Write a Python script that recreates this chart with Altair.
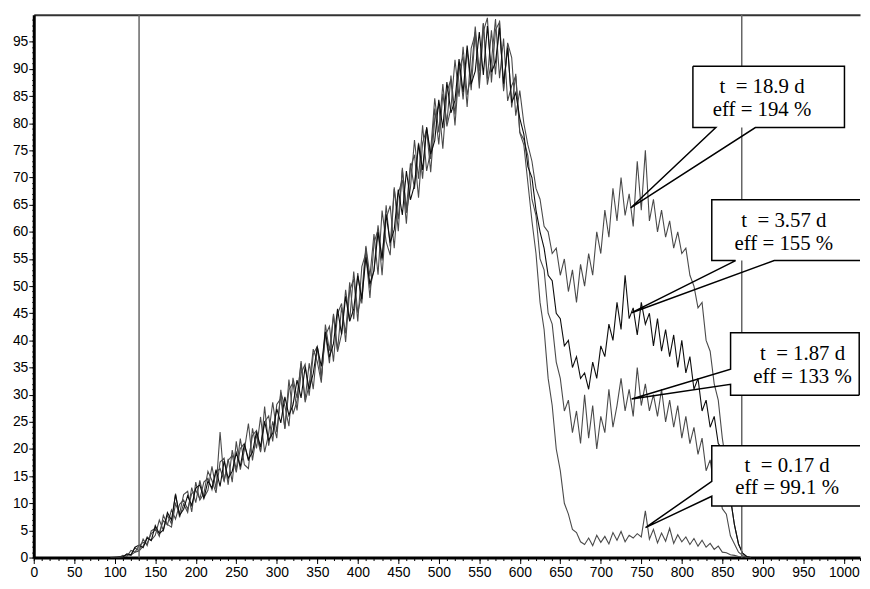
import altair as alt
import pandas as pd

# ---------------- data (channel grid, step 5) ----------------
chan_left = list(range(95, 601, 5))    # 102 channels
chan_right = list(range(605, 886, 5))  # 57 channels

a_left = [0, 0, 0, 0.4, 0.2, 1.3, 1.0, 1.2, 3.4, 2.2,
          4.9, 5.4, 3.9, 7.8, 6.1, 5.6, 9.9, 8.1, 11.6, 12.2,
          8.4, 13.9, 10.6, 11.8, 15.9, 14.2, 11.9, 17.6, 18.3, 13.4,
          19.8, 16.2, 21.9, 17.1, 16.4, 23.8, 20.1, 25.9, 19.4, 22.8,
          28.6, 23.1, 30.4, 27.9, 24.2, 33.1, 29.4, 35.8, 28.6, 31.9,
          38.4, 36.1, 32.2, 42.9, 38.1, 44.6, 37.9, 41.2, 49.3, 43.6,
          52.7, 45.1, 48.6, 57.4, 51.8, 59.6, 52.1, 63.9, 58.2, 55.7,
          67.9, 62.3, 71.4, 63.5, 68.1, 76.9, 69.8, 79.6, 71.2, 74.9,
          84.6, 78.3, 87.2, 79.4, 82.8, 91.7, 84.9, 94.1, 85.2, 88.9,
          97.8, 89.6, 98.4, 87.1, 91.4, 99.2, 88.3, 95.6, 84.1, 86.9,
          88.7, 78.2]
a_right = [76, 69, 62, 56, 47, 42, 33, 28, 20, 16,
           10, 8, 5.2, 4.6, 2.9, 2.4, 3.6, 2.2, 4.1, 2.8,
           3.9, 2.5, 4.6, 3.2, 4.8, 2.9, 4.1, 3.6, 4.4, 3.8,
           8.6, 3.4, 5.2, 2.7, 4.5, 3.0, 5.4, 2.6, 4.2, 2.9,
           3.8, 2.4, 3.5, 2.1, 3.2, 1.9, 2.6, 1.5, 2.1, 1.0,
           0.9, 0.5, 0.4, 0.2, 0.1, 0, 0]

b_left = [0, 0, 0.1, 0.1, 0.6, 0.4, 1.8, 1.2, 2.1, 3.8,
          3.2, 4.1, 6.9, 5.0, 7.8, 6.2, 11.8, 7.4, 9.9, 8.3,
          12.9, 10.1, 14.2, 11.0, 12.4, 16.8, 12.6, 23.1, 14.0, 18.2,
          13.9, 21.4, 16.2, 19.8, 24.7, 17.9, 22.6, 19.4, 27.8, 20.6,
          25.1, 22.0, 30.9, 23.7, 32.8, 26.4, 28.9, 36.2, 29.1, 35.8,
          31.0, 38.9, 33.2, 41.4, 35.8, 44.9, 38.2, 46.1, 41.3, 50.7,
          43.9, 52.4, 46.8, 57.1, 49.6, 53.0, 61.2, 54.7, 64.9, 57.3,
          68.2, 60.1, 71.8, 64.2, 72.6, 67.9, 76.4, 69.8, 79.3, 73.4,
          82.7, 76.1, 85.4, 79.9, 88.8, 81.6, 91.2, 84.4, 93.5, 86.1,
          96.8, 87.9, 98.4, 88.2, 97.1, 89.0, 98.9, 86.2, 94.6, 82.9,
          89.1, 78.4]
b_right = [77, 74, 66, 63, 55, 53, 45, 43, 36, 33,
           27, 29, 23, 27, 21, 30, 22, 28, 20, 26,
           23, 31, 24, 28, 33, 27, 31, 26, 35, 28,
           32, 27, 30, 26, 31, 25, 29, 24, 28, 22,
           26, 21, 24, 19, 22, 16, 18, 13, 14, 9,
           8, 4, 2.5, 1, 0.4, 0, 0]

c_left = [0, 0, 0.1, 0.1, 0.7, 0.5, 1.9, 2.3, 1.8, 3.6,
          3.1, 5.9, 4.4, 5.1, 8.3, 6.9, 11.6, 7.8, 8.9, 11.4,
          9.6, 12.8, 13.4, 10.9, 14.1, 12.8, 16.2, 13.1, 17.8, 14.6,
          15.9, 19.3, 16.8, 20.9, 18.1, 19.4, 23.2, 20.4, 25.1, 21.6,
          22.9, 27.4, 24.8, 29.6, 26.2, 28.1, 32.7, 29.4, 35.1, 31.0,
          33.9, 38.8, 35.2, 41.6, 36.9, 39.4, 45.8, 41.1, 48.1, 43.5,
          45.8, 51.9, 47.6, 55.3, 50.4, 52.8, 59.9, 55.1, 63.2, 58.0,
          60.4, 67.8, 63.1, 71.2, 65.9, 68.6, 76.1, 71.4, 79.2, 74.3,
          76.8, 84.3, 79.1, 87.6, 81.9, 84.2, 91.8, 85.7, 94.3, 87.2,
          89.6, 96.8, 88.9, 97.9, 89.4, 91.2, 97.6, 87.3, 93.9, 83.8,
          85.6, 80.9]
c_right = [78, 72, 70, 64, 60, 57, 52, 51, 45, 44,
           39, 40, 35, 37, 33, 34, 31, 36, 33, 39,
           37, 43, 40, 47, 42, 52, 44, 46, 41, 47,
           43, 45, 39, 44, 38, 42, 37, 41, 35, 40,
           34, 37, 31, 33, 27, 29, 24, 26, 21, 20,
           14, 11, 6, 2.5, 0.8, 0.2, 0]

d_left = [0, 0.1, 0, 0.1, 0.5, 0.5, 1.0, 2.2, 2.8, 2.6,
          4.4, 5.1, 4.6, 6.8, 6.0, 8.8, 7.1, 9.8, 10.6, 8.9,
          11.8, 12.4, 10.8, 13.9, 14.6, 12.5, 15.7, 16.4, 14.1, 17.9,
          18.8, 15.7, 20.1, 21.0, 17.8, 22.5, 23.4, 19.6, 25.0, 26.1,
          21.4, 28.2, 29.3, 23.8, 30.9, 32.2, 27.1, 34.0, 35.6, 29.8,
          37.4, 38.9, 33.0, 40.9, 42.6, 36.1, 44.9, 46.8, 39.7, 49.2,
          51.3, 43.5, 53.6, 56.1, 47.8, 57.9, 60.4, 52.0, 62.5, 64.8,
          57.0, 67.1, 69.6, 61.5, 71.8, 74.2, 66.3, 76.4, 78.9, 71.0,
          80.8, 83.4, 75.3, 85.7, 88.1, 79.6, 89.9, 92.3, 83.0, 93.8,
          96.5, 86.4, 96.9, 99.4, 87.5, 97.2, 98.6, 85.9, 94.8, 92.1,
          81.4, 86.0]
d_right = [80, 76, 73, 68, 66, 61, 60, 56, 57, 52,
           55, 49, 53, 47, 54, 50, 56, 52, 60, 56,
           64, 59, 68, 62, 70, 63, 67, 61, 73, 64,
           75, 62, 66, 60, 64, 59, 62, 57, 60, 56,
           57, 52, 50, 46, 47, 40, 38, 32, 29, 22,
           17, 11, 6, 2.5, 0.8, 0.2, 0]

series_names = ["t = 0.17 d", "t = 1.87 d", "t = 18.9 d", "t = 3.57 d"]
series_values = [a_left + a_right, b_left + b_right, d_left + d_right, c_left + c_right]
series_colors = ["#4a4a4a", "#4a4a4a", "#4a4a4a", "#0d0d0d"]

# vertical marker channels
marker_channels = [130, 874]

# callout annotations (data coordinates)
NB = "\u00a0"
label_line1 = ["t " + NB + "= 18.9 d", "t " + NB + "= 3.57 d", "t " + NB + "= 1.87 d", "t " + NB + "= 0.17 d"]
label_line2 = ["eff = 194 %", "eff = 155 %", "eff = 133 %", "eff = 99.1 %"]
label_x = [899, 926, 949, 930]
label_y1 = [86.7, 62.0, 37.4, 16.8]
label_y2 = [82.5, 57.8, 33.2, 12.8]
box_x0 = [813.7, 837, 860.2, 837]
box_x1 = [1000.8, 1020, 1019, 1020]
box_y0 = [79.2, 54.7, 29.9, 9.5]
box_y1 = [90.5, 65.9, 41.4, 20.6]
# callout outline paths (box edges + pointer wedge)
outline_paths = [
    [(813.7, 90.5), (1000.8, 90.5), (1000.8, 79.2), (890.8, 79.2), (736.8, 64.4),
     (842.0, 79.2), (813.7, 79.2), (813.7, 90.5)],
    [(1020, 65.9), (837, 65.9), (837, 54.7), (866.4, 54.7), (738.1, 45.1),
     (914.1, 54.7), (1020, 54.7)],
    [(1019, 29.9), (1019, 41.4), (860.2, 41.4), (860.2, 34.7), (738.1, 29.2),
     (860.2, 31.9), (860.2, 29.9), (1019, 29.9)],
    [(1020, 20.6), (837, 20.6), (837, 14.05), (755.2, 5.5), (837, 11.3),
     (837, 9.5), (1020, 9.5)],
]

x_major = list(range(0, 1001, 50))
x_minor = list(range(0, 1021, 10))
y_major = list(range(0, 96, 5))
y_minor = list(range(0, 100, 1))

# ---------------- chart ----------------
chans = chan_left + chan_right
xs = alt.Scale(domain=[0, 1020], nice=False, zero=False)
ys = alt.Scale(domain=[0, 100], nice=False, zero=False)

layers = []
for i, (name, vals, col) in enumerate(zip(series_names, series_values, series_colors)):
    df = pd.DataFrame({"chan": chans[:len(vals)], "counts": vals, "series": name})
    if i == 0:
        xa = alt.Axis(values=x_major, format="d", tickSize=6, tickColor="black", labelFontSize=14,
                      labelFont="Liberation Sans", labelColor="black", labelPadding=2,
                      domainColor="black", domainWidth=3, grid=False, title=None,
                      labelFlush=False, orient="bottom")
        ya = alt.Axis(values=y_major, format="d", tickSize=5, tickColor="black", labelFontSize=14,
                      labelFont="Liberation Sans", labelColor="black", labelPadding=1,
                      domainColor="black", domainWidth=3, grid=False, title=None,
                      orient="left")
    else:
        xa = None
        ya = None
    layers.append(
        alt.Chart(df).mark_line(color=col, strokeWidth=1.1, clip=True).encode(
            x=alt.X("chan:Q", scale=xs, axis=xa),
            y=alt.Y("counts:Q", scale=ys, axis=ya),
        )
    )

# minor ticks
minor = alt.Chart(pd.DataFrame({"chan": [0], "counts": [0]})).mark_point(opacity=0).encode(
    x=alt.X("chan:Q", scale=xs, axis=alt.Axis(values=x_minor, tickSize=3, tickColor="black",
                                               labels=False, domain=False, grid=False, title=None,
                                               orient="bottom")),
    y=alt.Y("counts:Q", scale=ys, axis=alt.Axis(values=y_minor, tickSize=2, tickColor="black",
                                                 labels=False, domain=False, grid=False, title=None,
                                                 orient="left")),
)

rules = alt.Chart(pd.DataFrame({"chan": marker_channels})).mark_rule(
    color="#666666", strokeWidth=1.5).encode(
    x=alt.X("chan:Q", scale=xs, axis=alt.Axis(orient="top", labels=False, ticks=False,
                                               domain=True, domainColor="#333333",
                                               domainWidth=2, grid=False, title=None)),
)

boxes_df = pd.DataFrame({"x0": box_x0, "x1": box_x1, "y0": box_y0, "y1": box_y1})
boxes = alt.Chart(boxes_df).mark_rect(color="white", clip=True).encode(
    x=alt.X("x0:Q", scale=xs, axis=None), x2="x1:Q",
    y=alt.Y("y0:Q", scale=ys, axis=None), y2="y1:Q",
)

rows = []
for b, path in enumerate(outline_paths):
    for k, (px, py) in enumerate(path):
        rows.append({"box": b, "k": k, "x": px, "y": py})
outline = alt.Chart(pd.DataFrame(rows)).mark_line(color="black", strokeWidth=1.5, clip=True).encode(
    x=alt.X("x:Q", scale=xs, axis=None),
    y=alt.Y("y:Q", scale=ys, axis=None),
    detail="box:N",
    order="k:Q",
)

text_df = pd.DataFrame({
    "x": label_x + label_x,
    "y": label_y1 + label_y2,
    "t": label_line1 + label_line2,
})
texts = alt.Chart(text_df).mark_text(font="Liberation Serif", fontSize=21, color="black",
                                     align="center", baseline="middle").encode(
    x=alt.X("x:Q", scale=xs, axis=None),
    y=alt.Y("y:Q", scale=ys, axis=None),
    text="t:N",
)

chart = alt.layer(layers[0], minor, *layers[1:], rules, boxes, outline, texts).resolve_axis(
    x="independent", y="independent"
).properties(
    width=834, height=548,
    autosize=alt.AutoSizeParams(type="none"),
    padding={"left": 26, "top": 4, "right": 2, "bottom": 26},
    background="white",
).configure_view(strokeWidth=0)

chart.save("out.html", embed_options={"renderer": "svg", "actions": False})
